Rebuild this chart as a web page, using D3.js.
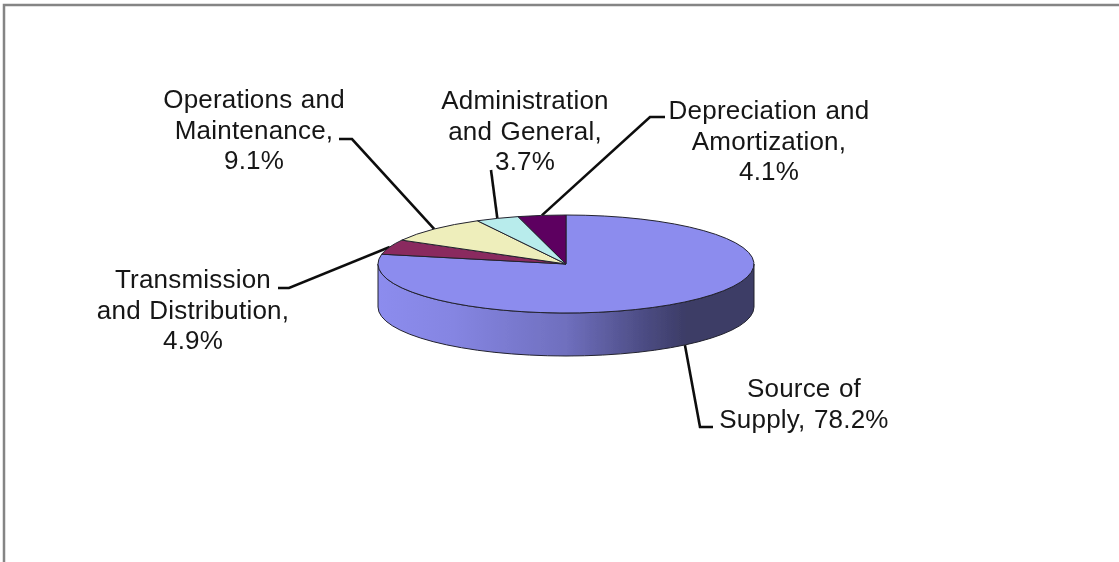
<!DOCTYPE html>
<html>
<head>
<meta charset="utf-8">
<title>Cost pie</title>
<script src="https://cdn.jsdelivr.net/npm/d3@7"></script>
<style>
  html, body { margin: 0; padding: 0; background: #fff; }
  svg { display: block; }
  text { font-family: "Liberation Sans", Arial, sans-serif; font-size: 26px; letter-spacing: 0.2px; word-spacing: 1px; fill: #151515; text-anchor: middle; }
</style>
</head>
<body>
<svg id="chart" width="1119" height="562"></svg>
<script>
var categories = ["Source of Supply", "Transmission and Distribution", "Operations and Maintenance", "Administration and General", "Depreciation and Amortization"];
var values = [78.2, 4.9, 9.1, 3.7, 4.1];
var labelLines = [
  ["Source of", "Supply, 78.2%"],
  ["Transmission", "and Distribution,", "4.9%"],
  ["Operations and", "Maintenance,", "9.1%"],
  ["Administration", "and General,", "3.7%"],
  ["Depreciation and", "Amortization,", "4.1%"]
];
var colors = ["#8c8cee", "#8a2c5f", "#eeeebb", "#b8ecec", "#5d0060"];

// where the labels sit, kept apart from the data
var labelPos = [[804, 397], [193, 288], [254, 108], [525, 109], [769, 119]];
var elbows = [
  [[700, 427], [713, 427]],
  [[289, 288], [278, 288]],
  [[352, 139], [339, 139]],
  [[491, 170]],
  [[650, 117], [665, 117]]
];

var cx = 566, cy = 264, rx = 188, ry = 49, depth = 43;
var svg = d3.select("#chart");
var defs = svg.append("defs");

var grad = defs.append("linearGradient")
  .attr("id", "rim")
  .attr("gradientUnits", "userSpaceOnUse")
  .attr("x1", cx - rx).attr("x2", cx + rx).attr("y1", 0).attr("y2", 0);
grad.selectAll("stop")
  .data([[0, "#8c8cee"], [0.2, "#8585e2"], [0.5, "#6f6fbe"], [0.72, "#4a4a80"], [0.82, "#3c3c66"], [1, "#3c3c66"]])
  .enter().append("stop")
  .attr("offset", function(d) { return d[0]; })
  .attr("stop-color", function(d) { return d[1]; });

defs.append("filter").attr("id", "soft")
  .append("feGaussianBlur").attr("stdDeviation", 0.45);

var g = svg.append("g").attr("filter", "url(#soft)");

// frame, open at the right and bottom
g.append("path")
  .attr("d", "M4,562V5H1119")
  .attr("fill", "none")
  .attr("stroke", "#858585")
  .attr("stroke-width", 2.5);

var pie = d3.pie().sort(null).startAngle(0).endAngle(2 * Math.PI);
var slices = pie(values);

// unit circle arcs get squashed into the ellipse with a transform
var arc = d3.arc().innerRadius(0).outerRadius(1);

function ex(a) { return cx + rx * Math.sin(a); }
function ey(a) { return cy - ry * Math.cos(a); }

// leaders go underneath the pie
slices.forEach(function(s, i) {
  var mid = (s.startAngle + s.endAngle) / 2;
  var front = Math.cos(mid) < 0;
  var pts = [[ex(mid), ey(mid) + (front ? depth : 0)]].concat(elbows[i]);
  g.append("path")
    .attr("d", d3.line()(pts))
    .attr("fill", "none")
    .attr("stroke", "#111")
    .attr("stroke-width", 2.6);
});

// front wall
g.append("path")
  .attr("d", "M" + (cx - rx) + "," + cy +
    "A" + rx + "," + ry + " 0 0 0 " + (cx + rx) + "," + cy +
    "V" + (cy + depth) +
    "A" + rx + "," + ry + " 0 0 1 " + (cx - rx) + "," + (cy + depth) + "Z")
  .attr("fill", "url(#rim)")
  .attr("stroke", "#22222e")
  .attr("stroke-width", 1);

// top face
g.selectAll("path.slice")
  .data(slices)
  .enter().append("path")
  .attr("class", "slice")
  .attr("d", arc)
  .attr("transform", "translate(" + cx + "," + cy + ") scale(" + rx + "," + ry + ")")
  .attr("fill", function(d, i) { return colors[i]; })
  .attr("stroke", "#22222e")
  .attr("stroke-width", 1)
  .attr("vector-effect", "non-scaling-stroke")
  .append("title").text(function(d, i) { return categories[i]; });

// labels
labelLines.forEach(function(lines, i) {
  var t = g.append("text");
  lines.forEach(function(line, j) {
    t.append("tspan")
      .attr("x", labelPos[i][0])
      .attr("y", labelPos[i][1] + j * 30.5)
      .text(line);
  });
});
</script>
</body>
</html>
